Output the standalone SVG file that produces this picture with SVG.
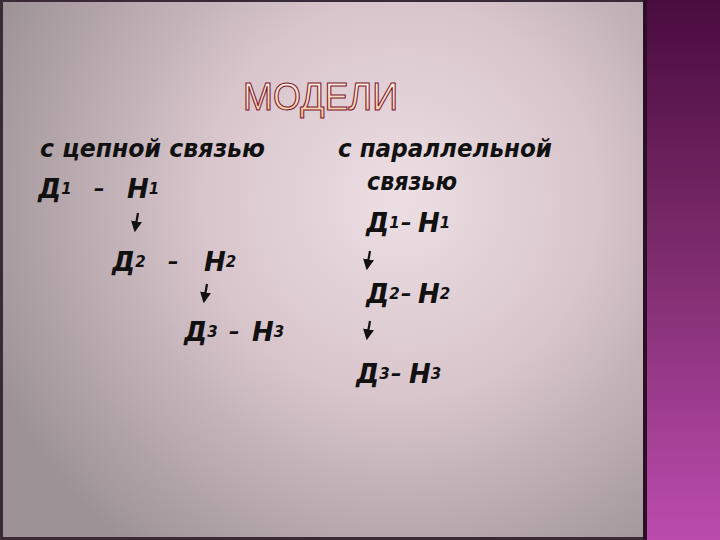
<svg xmlns="http://www.w3.org/2000/svg" width="720" height="540" viewBox="0 0 720 540">
<defs>
<radialGradient id="bg" cx="400" cy="200" r="440" gradientUnits="userSpaceOnUse">
<stop offset="0" stop-color="#ecdfe4"/>
<stop offset="0.45" stop-color="#d8c5cb"/>
<stop offset="1" stop-color="#9d9397"/>
</radialGradient>
<linearGradient id="strip" x1="0" y1="0" x2="0" y2="1">
<stop offset="0" stop-color="#4a0c3f"/>
<stop offset="0.45" stop-color="#7a2a6a"/>
<stop offset="1" stop-color="#bb4cae"/>
</linearGradient>
<linearGradient id="title" x1="0" y1="0" x2="0" y2="1">
<stop offset="0" stop-color="#fffbe8"/>
<stop offset="1" stop-color="#f5c690"/>
</linearGradient>
<marker id="ah" viewBox="0 0 10 10" refX="8" refY="5" markerWidth="5" markerHeight="5" orient="auto">
<path d="M0,0 L10,5 L0,10 Z" fill="#111"/>
</marker>
<style>
.t{font-family:"DejaVu Sans",sans-serif;font-style:italic;font-weight:bold;font-size:24px;fill:#111;}
.f{font-size:26px;}
.d{font-size:21px;}
.s{font-size:15px;}
.c{stroke:#111;stroke-width:2.2;fill:none;marker-end:url(#ah);}
.h{font-family:"Liberation Sans",sans-serif;font-size:38px;fill:url(#title);stroke:#7c1234;stroke-width:1.1;}
</style>
</defs>
<rect x="0" y="0" width="720" height="540" fill="#3a2a35"/>
<rect x="3" y="2" width="640" height="535" fill="url(#bg)"/>
<rect x="643" y="0" width="4" height="540" fill="#2a0f25"/>
<rect x="647" y="0" width="73" height="540" fill="url(#strip)"/>

<g id="title"><text class="h" x="243" y="110" textLength="155" lengthAdjust="spacingAndGlyphs">МОДЕЛИ</text></g>

<g id="left">
<text class="t" x="40" y="157" textLength="225" lengthAdjust="spacingAndGlyphs">с цепной связью</text>
<g id="l1"><text class="t f" x="38" y="198">Д<tspan class="s" dy="-4">1</tspan></text><text class="t d" x="94" y="196">–</text><text class="t f" x="127" y="198">Н<tspan class="s" dy="-4">1</tspan></text></g>
<g id="l2"><text class="t f" x="112" y="271">Д<tspan class="s" dy="-4">2</tspan></text><text class="t d" x="168" y="269">–</text><text class="t f" x="204" y="271">Н<tspan class="s" dy="-4">2</tspan></text></g>
<g id="l3"><text class="t f" x="184" y="341">Д<tspan class="s" dy="-4">3</tspan></text><text class="t d" x="229" y="339">–</text><text class="t f" x="252" y="341">Н<tspan class="s" dy="-4">3</tspan></text></g>
</g>

<g id="right">
<text class="t" x="338" y="157" textLength="214" lengthAdjust="spacingAndGlyphs">с параллельной</text>
<text class="t" x="367" y="190" textLength="90" lengthAdjust="spacingAndGlyphs">связью</text>
<g id="r1"><text class="t f" x="366" y="232">Д<tspan class="s" dy="-4">1</tspan></text><text class="t d" x="401" y="230">–</text><text class="t f" x="418" y="232">Н<tspan class="s" dy="-4">1</tspan></text></g>
<g id="r2"><text class="t f" x="366" y="303">Д<tspan class="s" dy="-4">2</tspan></text><text class="t d" x="401" y="301">–</text><text class="t f" x="418" y="303">Н<tspan class="s" dy="-4">2</tspan></text></g>
<g id="r3"><text class="t f" x="356" y="383">Д<tspan class="s" dy="-4">3</tspan></text><text class="t d" x="391" y="381">–</text><text class="t f" x="409" y="383">Н<tspan class="s" dy="-4">3</tspan></text></g>
</g>

<g id="connectors">
<path class="c" d="M138,213 L135,230"/>
<path class="c" d="M207,284 L204,301"/>
<path class="c" d="M370,251 L367,268"/>
<path class="c" d="M370,321 L367,338"/>
</g>
</svg>
